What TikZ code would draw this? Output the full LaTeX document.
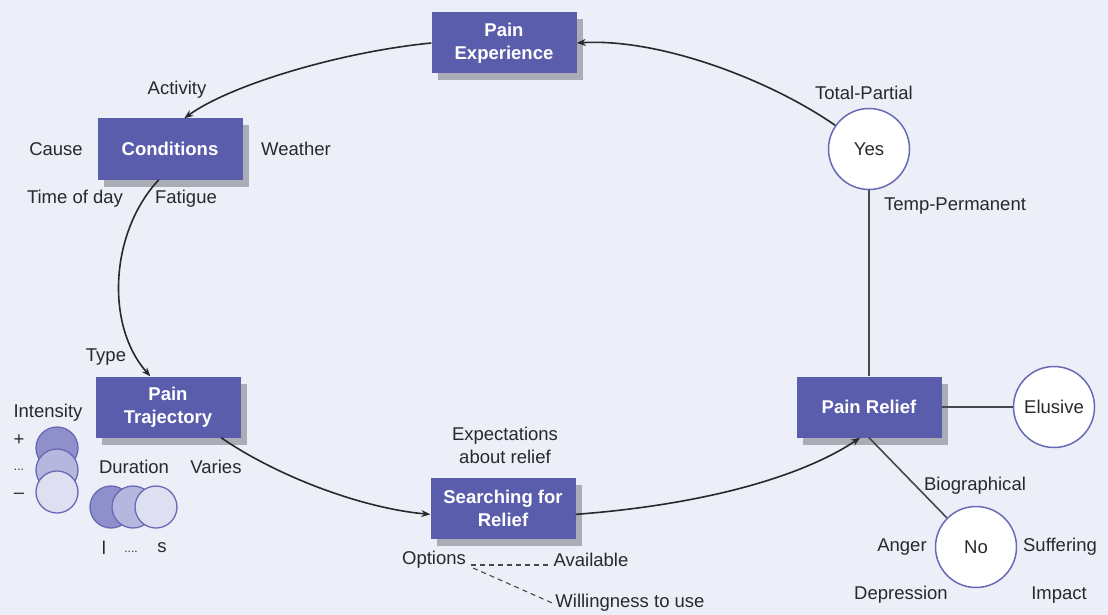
\documentclass[tikz,border=0pt]{standalone}
\usepackage{fontspec}
\setmainfont{Liberation Sans}
\usetikzlibrary{arrows.meta,shadows}
\definecolor{bgcol}{RGB}{236,239,247}
\definecolor{boxcol}{RGB}{90,93,172}
\definecolor{shadowcol}{RGB}{170,172,182}
\definecolor{ringcol}{RGB}{104,106,182}
\definecolor{inkcol}{RGB}{40,40,45}
\definecolor{dotdark}{RGB}{142,143,203}
\definecolor{dotmid}{RGB}{182,183,223}
\definecolor{dotlight}{RGB}{222,223,240}
\begin{document}
\begin{tikzpicture}[x=1pt,y=-1pt,
  every node/.style={font=\fontsize{18.5}{23}\selectfont, text=inkcol},
  stagebox/.style={rectangle, fill=boxcol, minimum width=145pt, minimum height=61pt,
    inner sep=0pt, align=center, text=white, font=\fontsize{18.5}{23}\selectfont\bfseries,
    drop shadow={shadow xshift=6pt, shadow yshift=-7pt, fill=shadowcol, opacity=1}},
  outcome/.style={circle, draw=ringcol, line width=1.5pt, fill=white, minimum size=81pt, inner sep=0pt},
  dot/.style={circle, draw=ringcol, line width=1.3pt, minimum size=42pt, inner sep=0pt},
  lbl/.style={inner sep=1pt},
  flow/.style={draw=inkcol, line width=1.6pt, -{Stealth[length=9pt,width=7pt]}},
  link/.style={draw=inkcol!85, line width=1.6pt},
  hint/.style={draw=inkcol!85, line width=1.1pt, dash pattern=on 5pt off 4pt}]

% canvas
\fill[bgcol] (0,0) rectangle (1108,615);
\useasboundingbox (0,0) rectangle (1108,615);

% stages of the cycle
\node[stagebox] (pe) at (504,43) {Pain\\Experience};
\node[stagebox] (cond) at (170,149) {Conditions};
\node[stagebox] (pt) at (168,407) {Pain\\Trajectory};
\node[stagebox] (sr) at (503,508) {Searching for\\Relief};
\node[stagebox] (pr) at (869,407) {Pain Relief};

% outcomes of relief
\node[outcome] (yes) at (869,149) {Yes};
\node[outcome] (elusive) at (1054,407) {Elusive};
\node[outcome] (no) at (976,547) {No};

% intensity scale
\node[dot, fill=dotdark] (i1) at (57,448) {};
\node[dot, fill=dotmid] (i2) at (57,470) {};
\node[dot, fill=dotlight] (i3) at (57,492) {};
% duration scale
\node[dot, fill=dotdark] (d1) at (111,507) {};
\node[dot, fill=dotmid] (d2) at (133,507) {};
\node[dot, fill=dotlight] (d3) at (156,507) {};

% labels
\node[lbl] (activity) at (177,90) {Activity};
\node[lbl] (cause) at (56,149) {Cause};
\node[lbl] (weather) at (296,149) {Weather};
\node[lbl] (tod) at (75,199) {Time of day};
\node[lbl] (fatigue) at (186,199) {Fatigue};
\node[lbl] (type) at (106,357) {Type};
\node[lbl] (intensity) at (48,413) {Intensity};
\node[lbl] (plus) at (19,440) {+};
\node[lbl, font=\fontsize{12}{14}\selectfont] (mid) at (19,470) {...};
\node[lbl] (minus) at (19,496) {--};
\node[lbl] (duration) at (134,467) {Duration};
\node[lbl] (varies) at (216,467) {Varies};
\node[lbl] (long) at (104,548) {l};
\node[lbl, font=\fontsize{12}{14}\selectfont] (gap) at (131,552) {....};
\node[lbl] (short) at (162,548) {s};
\node[lbl, align=center] (expect) at (505,445) {Expectations\\about relief};
\node[lbl] (options) at (434,560) {Options};
\node[lbl] (available) at (591,560) {Available};
\node[lbl] (willing) at (630,603) {Willingness to use};
\node[lbl] (total) at (864,93) {Total-Partial};
\node[lbl] (temp) at (955,206) {Temp-Permanent};
\node[lbl] (bio) at (975,486) {Biographical};
\node[lbl] (anger) at (902,547) {Anger};
\node[lbl] (suffer) at (1060,547) {Suffering};
\node[lbl] (depress) at (901,595) {Depression};
\node[lbl] (impact) at (1059,595) {Impact};

% cycle connectors
\draw[flow] (yes.145) .. controls (770,80) and (660,38) .. (pe.east);
\draw[flow] (pe.west) .. controls (340,52) and (230,85) .. (cond.65);
\draw[flow] (cond.250) .. controls (110,232) and (105,325) .. (pt.120);
\draw[flow] (pt.-30) .. controls (275,475) and (360,508) .. (sr.185);
\draw[flow] (sr.-5) .. controls (700,505) and (800,478) .. (pr.254);
\draw[link] (no.135) -- (pr.south);
\draw[link] (yes.south) -- (pr.north);
\draw[link] (pr.east) -- (elusive.west);

% options
\draw[hint] ([xshift=4pt,yshift=-5pt]options.east) -- ([xshift=-4pt,yshift=-5pt]available.west);
\draw[hint] ([xshift=6pt,yshift=-8pt]options.east) -- ([xshift=-2pt]willing.west);
\end{tikzpicture}
\end{document}
